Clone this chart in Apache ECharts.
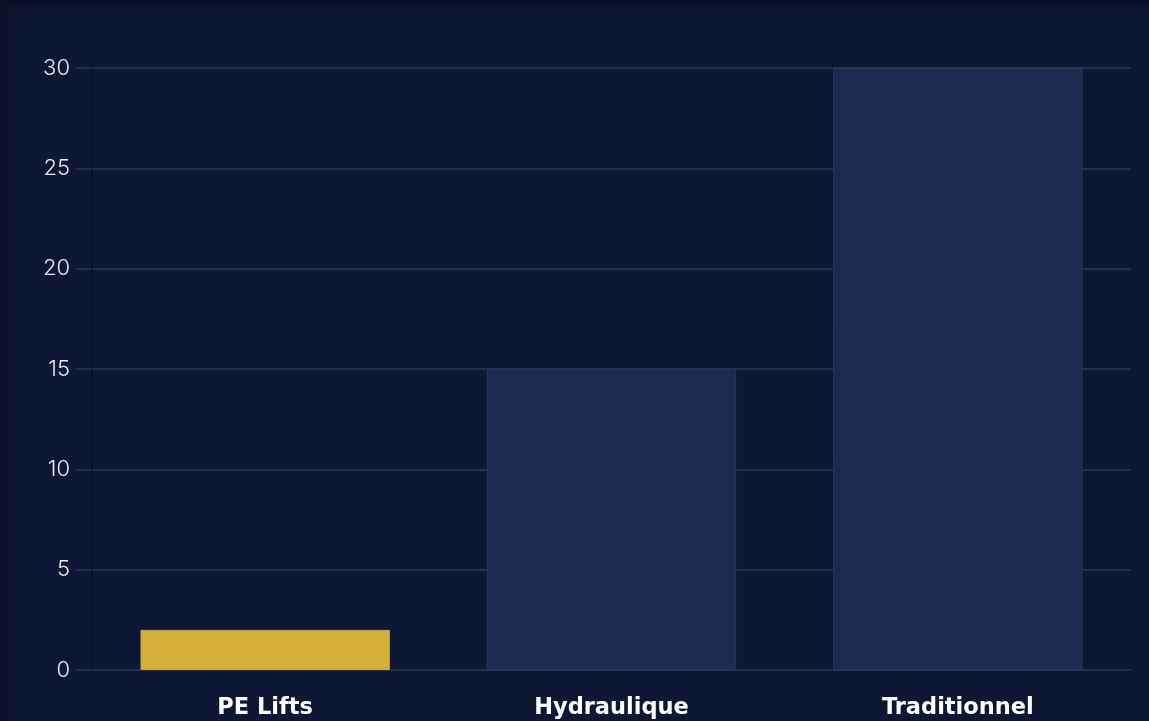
<!DOCTYPE html>
<html>
<head>
<meta charset="utf-8">
<script src="https://cdn.jsdelivr.net/npm/echarts@6/dist/echarts.min.js"></script>
<style>
  html, body { margin: 0; padding: 0; background: #0a1129; width: 1149px; height: 721px; overflow: hidden; }
  #wrap { position: absolute; left: 8px; top: 7px; right: 0; bottom: 0; background: #0e1834; }
  #bar { width: 100%; height: 100%; }
</style>
</head>
<body>
<div id="wrap"><div id="bar"></div></div>
<script>
const categories = ["PE Lifts", "Hydraulique", "Traditionnel"];
const values = [2, 15, 30];
const barColors = ["#d4af37", "#1d2a4f", "#1d2a4f"];

let mychart = echarts.init(document.getElementById("bar"));
mychart.setOption({
  animation: false,
  grid: { left: 84, right: 18, top: 61, bottom: 51 },
  xAxis: {
    type: "category",
    data: categories,
    axisLine: { show: true, lineStyle: { color: "#252f4c", width: 2 } },
    axisTick: { show: false },
    axisLabel: {
      color: "#ffffff",
      fontFamily: "DejaVu Sans",
      fontWeight: "bold",
      fontSize: 22.5,
      margin: 27
    }
  },
  yAxis: {
    type: "value",
    min: 0,
    max: 30,
    interval: 5,
    axisLine: { show: true, lineStyle: { color: "#0a1128", width: 2 } },
    axisTick: { show: true, length: 16, lineStyle: { color: "#252f4c", width: 2 } },
    splitLine: { lineStyle: { color: "#252f4c", width: 2 } },
    axisLabel: {
      color: "#e8ebf1",
      fontFamily: "Inter",
      fontWeight: 300,
      fontSize: 22,
      margin: 22
    }
  },
  series: [
    {
      type: "bar",
      barWidth: "72%",
      data: values.map((v, i) => ({
        value: v,
        itemStyle: { color: barColors[i], borderColor: i === 0 ? "#c9a532" : "#2a3658", borderWidth: 1 }
      }))
    }
  ]
});
</script>
</body>
</html>
